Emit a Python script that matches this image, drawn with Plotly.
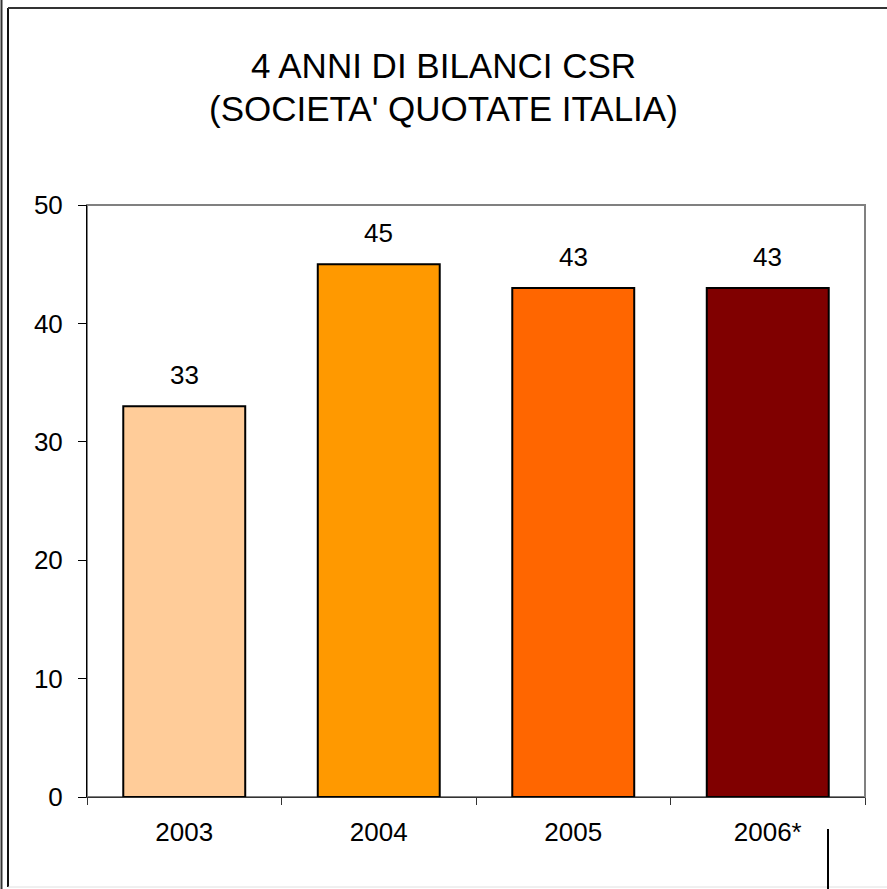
import plotly.graph_objects as go

categories = ["2003", "2004", "2005", "2006*"]
values = [33, 45, 43, 43]
bar_colors = ["#FFCC99", "#FF9900", "#FF6600", "#800000"]
title_lines = ["4 ANNI DI BILANCI CSR", "(SOCIETA' QUOTATE ITALIA)"]
y_ticks = [0, 10, 20, 30, 40, 50]

W, H = 887, 889
def px(x):
    return x / W
def py(y):
    return 1 - y / H

FONT = "Liberation Sans, Arial, sans-serif"

fig = go.Figure()
fig.add_trace(go.Bar(
    x=categories, y=values,
    marker=dict(color=bar_colors, line=dict(color="black", width=2)),
    hoverinfo="skip",
))

annotations = []
for i, v in enumerate(values):
    annotations.append(dict(x=i, y=v, xref="x", yref="y", text=str(v),
                            showarrow=False, yanchor="middle", yshift=31,
                            font=dict(family=FONT, size=26, color="black")))
annotations.append(dict(x=px(443), y=py(65), xref="paper", yref="paper",
                        text=title_lines[0], showarrow=False,
                        xanchor="center", yanchor="middle",
                        font=dict(family=FONT, size=35, color="black")))
annotations.append(dict(x=px(443), y=py(108), xref="paper", yref="paper",
                        text=title_lines[1], showarrow=False,
                        xanchor="center", yanchor="middle",
                        font=dict(family=FONT, size=35, color="black")))

shapes = [
    dict(type="rect", xref="paper", yref="paper",
         x0=px(87), x1=px(865), y0=py(797), y1=py(205),
         line=dict(color="#808080", width=2), layer="below"),
    dict(type="line", xref="paper", yref="paper",
         x0=px(1.5), x1=px(1.5), y0=0, y1=1, line=dict(color="#333333", width=2)),
    dict(type="line", xref="paper", yref="paper",
         x0=px(8), x1=px(8), y0=py(887), y1=py(8), line=dict(color="#111111", width=2)),
    dict(type="line", xref="paper", yref="paper",
         x0=px(8), x1=1, y0=py(8), y1=py(8), line=dict(color="#333333", width=2)),
    dict(type="line", xref="paper", yref="paper",
         x0=px(8), x1=1, y0=py(887), y1=py(887), line=dict(color="#E0E0E0", width=1)),
    dict(type="line", xref="paper", yref="paper",
         x0=px(828), x1=px(828), y0=py(829), y1=0, line=dict(color="black", width=2)),
]

fig.update_layout(
    width=W, height=H,
    margin=dict(l=0, r=0, t=0, b=0),
    paper_bgcolor="white", plot_bgcolor="white",
    showlegend=False,
    bargap=0.373,
    annotations=annotations,
    shapes=shapes,
    font=dict(family=FONT, size=26, color="black"),
    xaxis=dict(domain=[px(87), px(865)], range=[-0.5, 3.5], type="category",
               showline=True, linecolor="#333333", linewidth=1,
               ticks="outside", tickson="boundaries", ticklen=7, tickcolor="#333333",
               tickwidth=1, showgrid=False, zeroline=False, automargin=False,
               ticklabelstandoff=12,
               tickfont=dict(family=FONT, size=26, color="black")),
    yaxis=dict(domain=[py(797), py(205)], range=[0, 50],
               tickvals=y_ticks, ticktext=[str(t) for t in y_ticks],
               showline=True, linecolor="black", linewidth=1,
               ticks="outside", ticklen=8, tickcolor="black", tickwidth=1,
               showgrid=False, zeroline=False, automargin=False,
               ticklabelstandoff=10,
               tickfont=dict(family=FONT, size=26, color="black")),
)

fig.write_html("out.html")
